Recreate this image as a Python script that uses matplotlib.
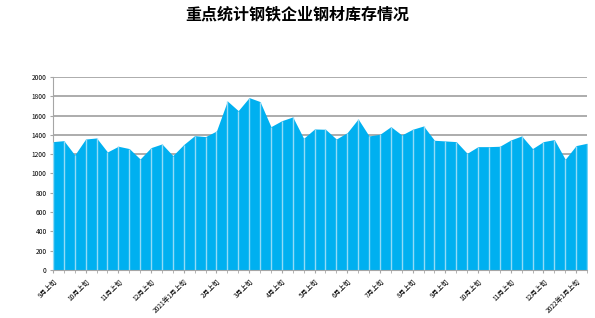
import matplotlib
matplotlib.use("Agg")
import matplotlib.pyplot as plt
import numpy as np

plt.rcParams['font.family'] = ['Noto Sans CJK SC', 'DejaVu Sans']

values = [1330, 1340, 1192, 1357, 1368, 1223, 1282, 1258, 1150, 1268,
          1306, 1185, 1300, 1392, 1382, 1440, 1751, 1651, 1786, 1745,
          1485, 1547, 1586, 1364, 1461, 1458, 1357, 1423, 1565, 1389,
          1406, 1485, 1399, 1458, 1492, 1344, 1337, 1330, 1209, 1278,
          1278, 1282, 1347, 1389, 1258, 1330, 1351, 1147, 1289, 1313]
tick_labels = ["9月上旬", "10月上旬", "11月上旬", "12月上旬", "2021年1月上旬",
               "2月上旬", "3月上旬", "4月上旬", "5月上旬", "6月上旬", "7月上旬",
               "8月上旬", "9月上旬", "10月上旬", "11月上旬", "12月上旬",
               "2022年1月上旬"]
title = "重点统计钢铁企业钢材库存情况"

x = np.arange(len(values))
fig = plt.figure(figsize=(5.95, 3.18), dpi=100)
ax = fig.add_axes([0.089, 0.151, 0.8976, 0.607])

ax.fill_between(x, 0, values, color='#00B0F0', linewidth=0, zorder=2)
ax.vlines(x, 0, values, color='#92DBF7', linewidth=1.0, zorder=3)

ax.set_xlim(0, len(values) - 1)
ax.set_ylim(0, 2000)
ax.set_yticks(np.arange(0, 2001, 200))
ax.yaxis.grid(True, color='#A6A6A6', linewidth=1.3, zorder=1)
ax.set_axisbelow(True)

ax.set_xticks(x, minor=True)
ax.set_xticks(x[::3])
ax.set_xticklabels(tick_labels, rotation=45, ha='right', rotation_mode='anchor', fontsize=4.8)
ax.tick_params(axis='x', which='both', length=2.5, color='#A6A6A6', pad=3)
ax.tick_params(axis='y', labelsize=4.8, length=2.5, color='#A6A6A6', pad=2)

for s in ['top', 'right']:
    ax.spines[s].set_visible(False)
for s in ['left', 'bottom']:
    ax.spines[s].set_color('#A6A6A6')
    ax.spines[s].set_linewidth(0.8)

fig.text(0.5, 0.955, title, ha='center', va='center', fontsize=11.5, fontweight='bold')

fig.savefig('out.png', dpi=100)
